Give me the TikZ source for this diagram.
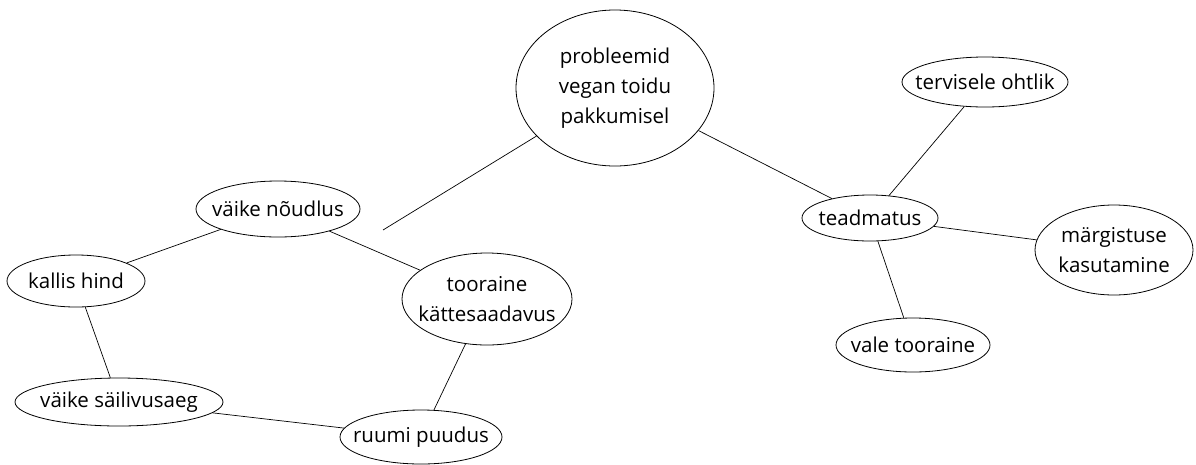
\documentclass[tikz,border=0pt]{standalone}
\usepackage{fontspec}
\setmainfont{Open Sans}
\usetikzlibrary{shapes.geometric}
\begin{document}
\begin{tikzpicture}[x=1pt,y=-1pt,
  el/.style={draw, ellipse, inner sep=0pt, line width=0.8pt},
  lab/.style={align=center, inner sep=0pt, font=\fontsize{20.5}{30}\selectfont},
  conn/.style={line width=0.7pt}]
\useasboundingbox (0,0) rectangle (1196,464);
\node[el, minimum width=198, minimum height=156, label={[lab]center:{probleemid\\vegan toidu\\pakkumisel}}] (p) at (615,88) {};
\node[el, minimum width=166, minimum height=50, label={[lab]center:{tervisele ohtlik}}] (t) at (985,82) {};
\node[el, minimum width=136, minimum height=46, label={[lab]center:{teadmatus}}] (te) at (870,218) {};
\node[el, minimum width=158, minimum height=90, label={[lab]center:{märgistuse\\kasutamine}}] (m) at (1114,250) {};
\node[el, minimum width=154, minimum height=54, label={[lab]center:{vale tooraine}}] (v) at (913,345) {};
\node[el, minimum width=164, minimum height=56, label={[lab]center:{väike nõudlus}}] (n) at (278,209) {};
\node[el, minimum width=170, minimum height=92, label={[lab]center:{tooraine\\kättesaadavus}}] (k) at (487,299) {};
\node[el, minimum width=138, minimum height=52, label={[lab]center:{kallis hind}}] (h) at (76,281) {};
\node[el, minimum width=208, minimum height=48, label={[lab]center:{väike säilivusaeg}}] (s) at (119,402) {};
\node[el, minimum width=162, minimum height=54, label={[lab]center:{ruumi puudus}}] (r) at (421,437) {};
\coordinate (fe) at (383,230);
\draw[conn] (p) -- (te);
\draw[conn] (p) -- (fe);
\draw[conn] (n) -- (k);
\draw[conn] (n) -- (h);
\draw[conn] (h) -- (s);
\draw[conn] (k) -- (r);
\draw[conn] (s) -- (r);
\draw[conn] (te) -- (t);
\draw[conn] (te) -- (m);
\draw[conn] (te) -- (v);
\end{tikzpicture}
\end{document}
